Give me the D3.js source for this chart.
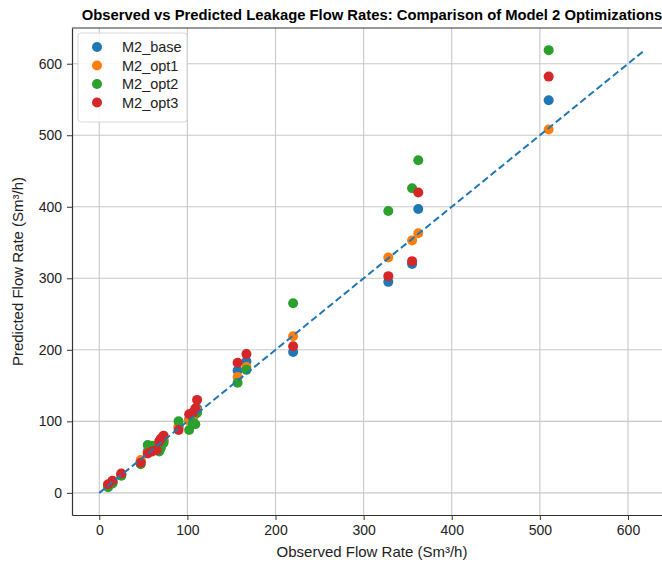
<!DOCTYPE html>
<html>
<head>
<meta charset="utf-8">
<script src="https://cdn.jsdelivr.net/npm/d3@7"></script>
<style>
  body { margin: 0; background: #fff; }
  svg { font-family: "Liberation Sans", Arial, sans-serif; }
</style>
</head>
<body>
<div id="chart"></div>
<script>
const width = 662;
const height = 563;
const margin = { top: 28, right: -10, bottom: 48, left: 72 };

// Observed flow rates (Sm3/h)
const observed = [10, 15, 25, 47, 55, 60, 65, 68, 70, 73, 90, 102, 106, 109, 111, 157, 167, 220, 328, 355, 362, 510];

// Predicted flow rates per model variant
const m2Base = [10, 15, 26, 44, 58, 60, 62, 66, 70, 74, 92, 103, 104, 112, 118, 171, 184, 197, 295, 320, 397, 549];
const m2Opt1 = [11, 16, 25, 46, 56, 62, 63, 68, 71, 73, 93, 101, 103, 110, 115, 162, 176, 219, 329, 353, 363, 508];
const m2Opt2 = [8, 13, 24, 40, 67, 66, 60, 58, 63, 70, 100, 88, 98, 96, 112, 154, 172, 265, 394, 426, 465, 619];
const m2Opt3 = [12, 17, 27, 42, 55, 58, 60, 72, 76, 80, 88, 110, 112, 118, 130, 182, 194, 205, 303, 324, 420, 582];

const seriesNames = ["M2_base", "M2_opt1", "M2_opt2", "M2_opt3"];
const seriesValues = [m2Base, m2Opt1, m2Opt2, m2Opt3];
const colors = ["#1f77b4", "#ff7f0e", "#2ca02c", "#d62728"];
const xTicks = [0, 100, 200, 300, 400, 500, 600];
const yTicks = [0, 100, 200, 300, 400, 500, 600];

const innerW = width - margin.left - margin.right;
const innerH = height - margin.top - margin.bottom;

const svg = d3.select("#chart")
    .append("svg")
    .attr("width", width)
    .attr("height", height);

const g = svg.append("g")
    .attr("transform", `translate(${margin.left},${margin.top})`);

// limits like matplotlib: 5% padding around [0, max]
const maxVal = d3.max(seriesValues.flat().concat(observed));
const pad = maxVal * 0.05;

const x = d3.scaleLinear()
    .domain([-pad, maxVal + pad])
    .range([0, innerW]);

const y = d3.scaleLinear()
    .domain([-pad, maxVal + pad])
    .range([innerH, 0]);

// Grid
g.append("g")
    .selectAll("line")
    .data(xTicks)
  .enter().append("line")
    .attr("x1", d => x(d)).attr("x2", d => x(d))
    .attr("y1", 0).attr("y2", innerH)
    .attr("stroke", "#c8c8c8")
    .attr("stroke-width", 1.1);

g.append("g")
    .selectAll("line")
    .data(yTicks)
  .enter().append("line")
    .attr("y1", d => y(d)).attr("y2", d => y(d))
    .attr("x1", 0).attr("x2", innerW)
    .attr("stroke", "#c8c8c8")
    .attr("stroke-width", 1.1);

// Axes
const xAxis = g.append("g")
    .attr("transform", `translate(0,${innerH})`)
    .call(d3.axisBottom(x).tickValues(xTicks).tickSize(5).tickPadding(5).tickSizeOuter(0));

const yAxis = g.append("g")
    .call(d3.axisLeft(y).tickValues(yTicks).tickSize(5).tickPadding(5).tickSizeOuter(0));

[xAxis, yAxis].forEach(a => {
    a.select(".domain").attr("stroke", "#333").attr("stroke-width", 1.2);
    a.selectAll(".tick line").attr("stroke", "#333");
    a.selectAll(".tick text")
        .attr("fill", "#222")
        .style("font-size", "14px")
        .style("font-family", "'Liberation Sans', Arial, sans-serif");
});

// top frame line
g.append("line")
    .attr("x1", 0).attr("x2", innerW)
    .attr("y1", 0).attr("y2", 0)
    .attr("stroke", "#333").attr("stroke-width", 1.2);

// Points
seriesValues.forEach((vals, si) => {
    g.append("g")
        .selectAll("circle")
        .data(vals)
      .enter().append("circle")
        .attr("cx", (d, i) => x(observed[i]))
        .attr("cy", d => y(d))
        .attr("r", 5)
        .attr("fill", colors[si]);
});

// 1:1 line
g.append("line")
    .attr("x1", x(0)).attr("y1", y(0))
    .attr("x2", x(maxVal)).attr("y2", y(maxVal))
    .attr("stroke", "#1f77b4")
    .attr("stroke-width", 2)
    .attr("stroke-dasharray", "7,3.5");

// Legend
const legend = g.append("g").attr("transform", "translate(6,5)");
legend.append("rect")
    .attr("width", 109)
    .attr("height", 89)
    .attr("rx", 3)
    .attr("fill", "#fff")
    .attr("fill-opacity", 0.85)
    .attr("stroke", "#d8d8d8");

const items = legend.selectAll(".legend-item")
    .data(seriesNames)
  .enter().append("g")
    .attr("transform", (d, i) => `translate(0,${14 + i * 18.5})`);

items.append("circle")
    .attr("cx", 19)
    .attr("r", 5)
    .attr("fill", (d, i) => colors[i]);

items.append("text")
    .attr("x", 44)
    .attr("dy", "0.35em")
    .style("font-size", "14.5px")
    .attr("fill", "#222")
    .text(d => d);

// Title and axis labels
svg.append("text")
    .attr("x", margin.left + innerW / 2)
    .attr("y", 20)
    .attr("text-anchor", "middle")
    .style("font-size", "14.8px")
    .style("font-weight", "bold")
    .text("Observed vs Predicted Leakage Flow Rates: Comparison of Model 2 Optimizations");

svg.append("text")
    .attr("x", margin.left + innerW / 2)
    .attr("y", 557)
    .attr("text-anchor", "middle")
    .style("font-size", "15px")
    .attr("fill", "#222")
    .text("Observed Flow Rate (Sm³/h)");

svg.append("text")
    .attr("transform", `translate(23,${margin.top + innerH / 2}) rotate(-90)`)
    .attr("text-anchor", "middle")
    .style("font-size", "15px")
    .attr("fill", "#222")
    .text("Predicted Flow Rate (Sm³/h)");
</script>
</body>
</html>
